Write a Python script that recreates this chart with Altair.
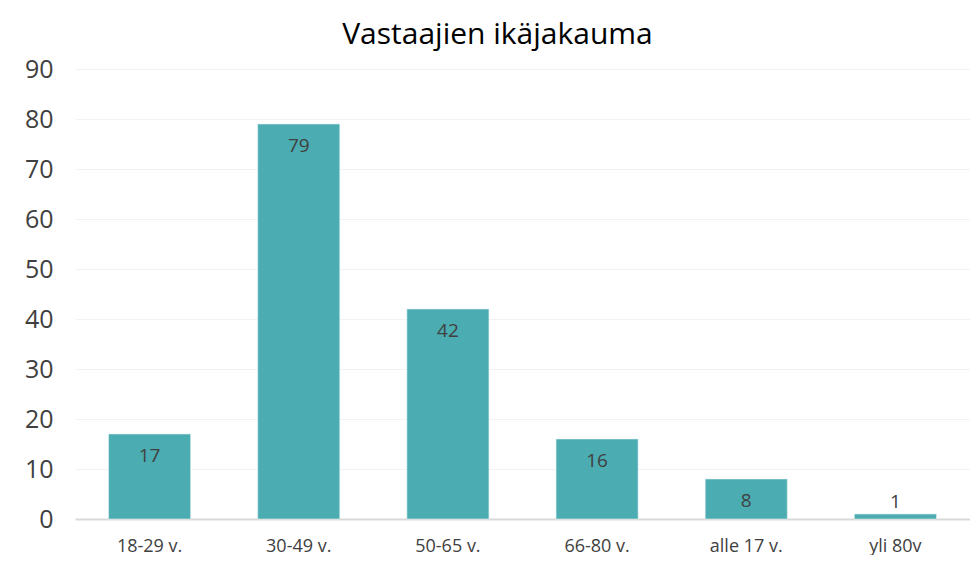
import altair as alt
import pandas as pd

categories = ["18-29 v.", "30-49 v.", "50-65 v.", "66-80 v.", "alle 17 v.", "yli 80v"]
values = [17, 79, 42, 16, 8, 1]

df = pd.DataFrame({"cat": categories, "val": values})

FONT = "Open Sans"
COLOR = "#4BACB1"

x = alt.X("cat:N", sort=categories, title=None,
          scale=alt.Scale(paddingInner=0.45, paddingOuter=0.225),
          axis=alt.Axis(labelAngle=0, labelFont=FONT, labelFontSize=18, labelColor="#404040",
                        labelPadding=18, ticks=False, domainColor="#D9D9D9", domainWidth=2, grid=False))
y = alt.Y("val:Q", title=None,
          scale=alt.Scale(domain=[0, 90]),
          axis=alt.Axis(values=list(range(0, 100, 10)), labelFont=FONT, labelFontSize=25,
                        labelColor="#404040", labelPadding=22, ticks=False, domain=False,
                        gridColor="#F2F2F2", gridWidth=1))

base = alt.Chart(df)
bars = base.mark_bar(color=COLOR, stroke="#DDEFF0", strokeWidth=0.6).encode(x=x, y=y)
inside = base.transform_filter("datum.val >= 5").mark_text(
    baseline="middle", dy=22, font=FONT, fontSize=19, color="#404040"
).encode(x=alt.X("cat:N", sort=categories), y="val:Q", text="val:Q")
above = base.transform_filter("datum.val < 5").mark_text(
    baseline="middle", dy=-12, font=FONT, fontSize=19, color="#404040"
).encode(x=alt.X("cat:N", sort=categories), y="val:Q", text="val:Q")

chart = (bars + inside + above).properties(
    width=895, height=450,
    title=alt.TitleParams("Vastaajien ikäjakauma", font=FONT, fontSize=30, fontWeight="normal",
                          color="#000000", anchor="middle", offset=7, dx=-25),
    autosize=alt.AutoSizeParams(type="none"),
    padding={"left": 67, "top": 61, "right": 0, "bottom": 36},
).configure_view(stroke=None)

chart.save("out.html", embed_options={"renderer": "svg", "actions": False})
